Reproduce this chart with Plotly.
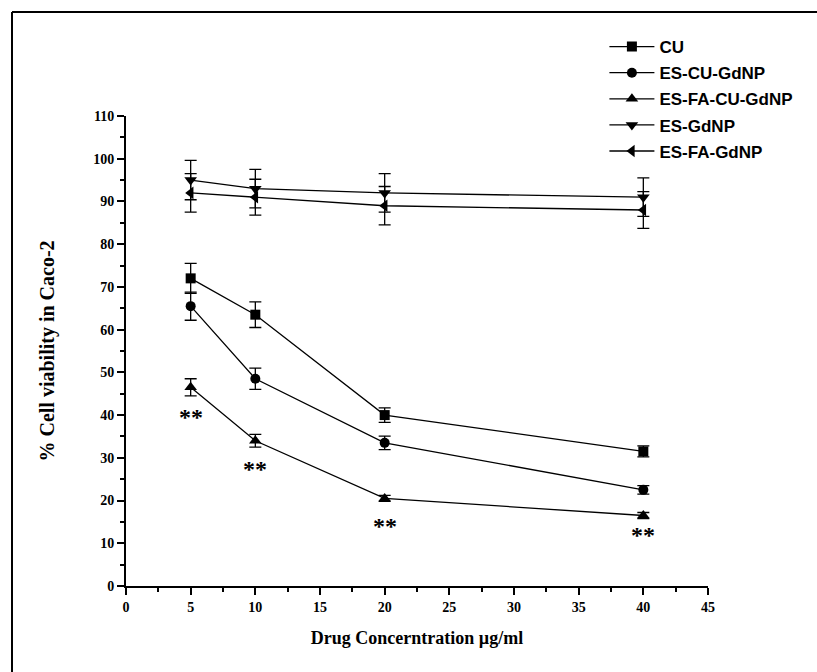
import plotly.graph_objects as go

conc = [5, 10, 20, 40]
series_names = ["CU", "ES-CU-GdNP", "ES-FA-CU-GdNP", "ES-GdNP", "ES-FA-GdNP"]
cu = [72, 63.5, 40, 31.5]
cu_err = [3.5, 3, 1.7, 1.3]
es_cu = [65.5, 48.5, 33.5, 22.5]
es_cu_err = [3.3, 2.5, 1.6, 1.0]
es_fa_cu = [46.5, 34, 20.5, 16.5]
es_fa_cu_err = [2.0, 1.5, 0.7, 0.7]
es_gd = [95, 93, 92, 91]
es_gd_err = [4.6, 4.5, 4.5, 4.5]
es_fa_gd = [92, 91, 89, 88]
es_fa_gd_err = [4.5, 4.2, 4.5, 4.3]
star_y = [39.5, 27.5, 14, 12]
star_label = "**"

values = [cu, es_cu, es_fa_cu, es_gd, es_fa_gd]
errors = [cu_err, es_cu_err, es_fa_cu_err, es_gd_err, es_fa_gd_err]
symbols = ["square", "circle", "triangle-up", "triangle-down", "triangle-left"]

fig = go.Figure()
for i, (name, v, e, s) in enumerate(zip(series_names, values, errors, symbols)):
    fig.add_trace(go.Scatter(
        x=conc, y=v, name=name, mode="lines+markers",
        line=dict(color="black", width=1.3),
        marker=dict(symbol=s, size=11 if "triangle" in s else 10, color="black"),
        error_y=dict(type="data", array=e, visible=True, color="black",
                     thickness=1.3, width=6),
        legendgroup=f"g{i}",
    ))

for x, y in zip(conc, star_y):
    fig.add_annotation(x=x, y=y, text=star_label, showarrow=False,
                       font=dict(family="Liberation Serif", size=24, color="black",
                                 weight="bold"),
                       xref="x", yref="y")

fig.update_layout(
    width=817, height=672,
    margin=dict(l=126, r=109, t=116, b=86),
    plot_bgcolor="white", paper_bgcolor="white",
    showlegend=True,
    legend=dict(x=0.822, y=1.185, xanchor="left", yanchor="top",
                font=dict(family="Liberation Sans", size=17, color="black",
                          weight="bold"),
                itemwidth=45, tracegroupgap=1, traceorder="grouped",
                bgcolor="rgba(0,0,0,0)"),
    font=dict(family="Liberation Serif", color="black"),
)

fig.update_xaxes(
    range=[0, 45], tickvals=[0, 5, 10, 15, 20, 25, 30, 35, 40, 45],
    showgrid=False, zeroline=False, showline=True, linecolor="black", linewidth=2,
    ticks="outside", ticklen=7, tickwidth=2, tickcolor="black",
    minor=dict(dtick=2.5, ticks="outside", ticklen=4, tickwidth=2, tickcolor="black"),
    tickfont=dict(family="Liberation Serif", size=14, color="black", weight="bold"),
    title=dict(text="Drug Concerntration µg/ml", standoff=18,
               font=dict(family="Liberation Serif", size=18, color="black", weight="bold")),
)
fig.update_yaxes(
    range=[0, 110], tickvals=list(range(0, 111, 10)),
    showgrid=False, zeroline=False, showline=True, linecolor="black", linewidth=2,
    ticks="outside", ticklen=7, tickwidth=2, tickcolor="black",
    minor=dict(dtick=5, ticks="outside", ticklen=4, tickwidth=2, tickcolor="black"),
    tickfont=dict(family="Liberation Serif", size=14, color="black", weight="bold"),
    title=dict(text="% Cell viability in Caco-2", standoff=33,
               font=dict(family="Liberation Serif", size=20, color="black", weight="bold")),
)

# outer frame (left and top edges visible in the original image)
bx = (12 - 126) / 582
by = (586 - 12) / 470
fig.add_shape(type="line", xref="paper", yref="paper", x0=bx, x1=bx, y0=-0.3, y1=by,
              line=dict(color="black", width=2))
fig.add_shape(type="line", xref="paper", yref="paper", x0=bx, x1=1.3, y0=by, y1=by,
              line=dict(color="black", width=2))

fig.write_html("out.html")
